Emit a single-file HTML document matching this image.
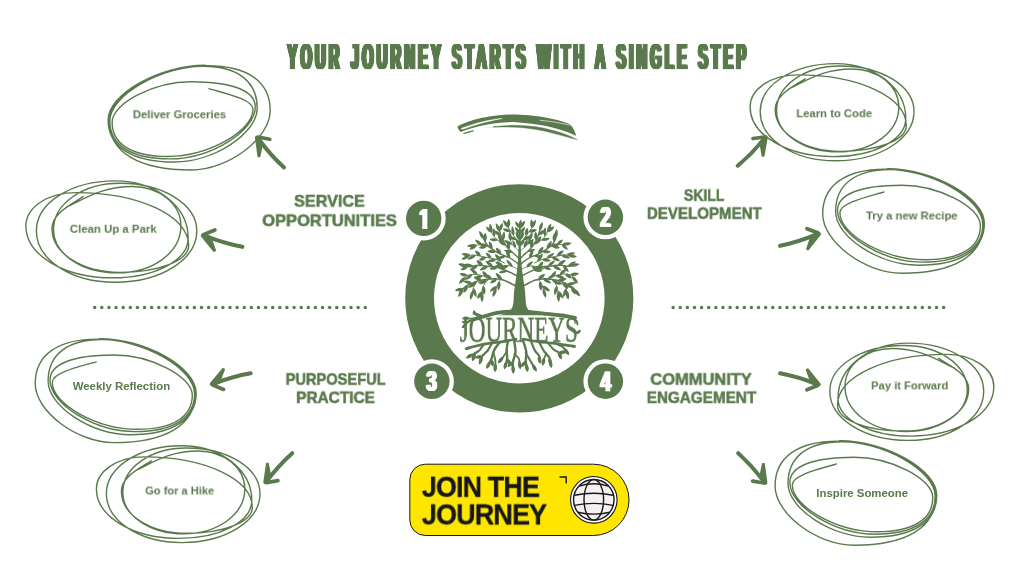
<!DOCTYPE html>
<html lang="en">
<head>
<meta charset="utf-8">
<title>Your Journey Starts With A Single Step</title>
<style>
html,body{margin:0;padding:0;background:#fff}
body{width:1024px;height:575px;overflow:hidden;position:relative;font-family:"Liberation Sans",Arial,sans-serif}
svg.bg{position:absolute;left:0;top:0;width:1024px;height:575px;display:block}
.t{position:absolute;white-space:nowrap;line-height:1;transform-origin:0 0;color:#5a7a4d;font-weight:bold;margin:0;padding:0;will-change:transform}
.title{word-spacing:2px;letter-spacing:8px;text-shadow:3.7px 0 0 #5a7a4d,-3.7px 0 0 #5a7a4d,2.8px 0 0 #5a7a4d,-2.8px 0 0 #5a7a4d,1.9px 0 0 #5a7a4d,-1.9px 0 0 #5a7a4d,0.95px 0 0 #5a7a4d,-0.95px 0 0 #5a7a4d}
.num{color:#fff;text-shadow:2px 0 0 #fff,-2px 0 0 #fff,1px 0 0 #fff,-1px 0 0 #fff}
.h{-webkit-text-stroke:0.55px #5a7a4d}
.l{font-weight:bold}
.btn{color:#17171a;letter-spacing:-0.9px;-webkit-text-stroke:0.35px #17171a}
.logo{font-family:"Liberation Serif","DejaVu Serif",serif;font-weight:normal;-webkit-text-stroke:0.7px #5a7a4d}
</style>
</head>
<body>
<svg class="bg" viewBox="0 0 1024 575" width="1024" height="575">
<circle cx="519.3" cy="298.3" r="99.7" fill="none" stroke="#5a7a4d" stroke-width="28.8"/>
<path d="M94.7 307.5H365.4" stroke="#5a7a4d" stroke-width="3.5" stroke-linecap="round" stroke-dasharray="0 7.12" fill="none"/>
<path d="M673.1 307.5H943.8" stroke="#5a7a4d" stroke-width="3.5" stroke-linecap="round" stroke-dasharray="0 7.12" fill="none"/>
<circle cx="423.7" cy="218.4" r="22" fill="#fff"/><circle cx="423.7" cy="218.4" r="17.7" fill="#5a7a4d"/>
<circle cx="605.4" cy="217.3" r="22" fill="#fff"/><circle cx="605.4" cy="217.3" r="17.7" fill="#5a7a4d"/>
<circle cx="431.9" cy="381.3" r="22" fill="#fff"/><circle cx="431.9" cy="381.3" r="17.7" fill="#5a7a4d"/>
<circle cx="605.4" cy="381.2" r="22" fill="#fff"/><circle cx="605.4" cy="381.2" r="17.7" fill="#5a7a4d"/>
<g transform="matrix(-0.6682 -0.7313 0.7313 -0.6682 256.0 135.9)" fill="#5a7a4d" stroke="#5a7a4d"><path d="M-42.6 -0.6Q-24 -2.2 -5 -0.2" fill="none" stroke-width="4.1" stroke-linecap="round"/><path d="M-2.6 0.9L-11.9 8.0" fill="none" stroke-width="3.8" stroke-linecap="round"/><path d="M-1.2 -1.3L-16.8 -12.2L-17.7 -11.4L-9.8 -0.4L-2.6 1.1Q-0.5 0.6 -0.7 -0.5Q-0.9 -1 -1.2 -1.3Z" stroke-width="1.8" stroke-linejoin="round"/></g>
<g transform="matrix(-0.9720 -0.2734 0.2734 -0.9720 201.1 234.6)" fill="#5a7a4d" stroke="#5a7a4d"><path d="M-42.6 -0.6Q-24 -2.2 -5 -0.2" fill="none" stroke-width="4.1" stroke-linecap="round"/><path d="M-2.6 0.9L-11.9 8.0" fill="none" stroke-width="3.8" stroke-linecap="round"/><path d="M-1.2 -1.3L-16.8 -12.2L-17.7 -11.4L-9.8 -0.4L-2.6 1.1Q-0.5 0.6 -0.7 -0.5Q-0.9 -1 -1.2 -1.3Z" stroke-width="1.8" stroke-linejoin="round"/></g>
<g transform="matrix(0.6916 -0.6939 -0.6939 -0.6916 766.8 135.8)" fill="#5a7a4d" stroke="#5a7a4d"><path d="M-42.6 -0.6Q-24 -2.2 -5 -0.2" fill="none" stroke-width="4.1" stroke-linecap="round"/><path d="M-2.6 0.9L-11.9 8.0" fill="none" stroke-width="3.8" stroke-linecap="round"/><path d="M-1.2 -1.3L-16.8 -12.2L-17.7 -11.4L-9.8 -0.4L-2.6 1.1Q-0.5 0.6 -0.7 -0.5Q-0.9 -1 -1.2 -1.3Z" stroke-width="1.8" stroke-linejoin="round"/></g>
<g transform="matrix(0.9556 -0.2874 -0.2874 -0.9556 820.6 233.0)" fill="#5a7a4d" stroke="#5a7a4d"><path d="M-42.6 -0.6Q-24 -2.2 -5 -0.2" fill="none" stroke-width="4.1" stroke-linecap="round"/><path d="M-2.6 0.9L-11.9 8.0" fill="none" stroke-width="3.8" stroke-linecap="round"/><path d="M-1.2 -1.3L-16.8 -12.2L-17.7 -11.4L-9.8 -0.4L-2.6 1.1Q-0.5 0.6 -0.7 -0.5Q-0.9 -1 -1.2 -1.3Z" stroke-width="1.8" stroke-linejoin="round"/></g>
<g transform="matrix(-0.9556 0.2570 0.2570 0.9556 210.1 384.8)" fill="#5a7a4d" stroke="#5a7a4d"><path d="M-42.6 -0.6Q-24 -2.2 -5 -0.2" fill="none" stroke-width="4.1" stroke-linecap="round"/><path d="M-2.6 0.9L-11.9 8.0" fill="none" stroke-width="3.8" stroke-linecap="round"/><path d="M-1.2 -1.3L-16.8 -12.2L-17.7 -11.4L-9.8 -0.4L-2.6 1.1Q-0.5 0.6 -0.7 -0.5Q-0.9 -1 -1.2 -1.3Z" stroke-width="1.8" stroke-linejoin="round"/></g>
<g transform="matrix(-0.6659 0.7103 0.7103 0.6659 264.3 483.8)" fill="#5a7a4d" stroke="#5a7a4d"><path d="M-42.6 -0.6Q-24 -2.2 -5 -0.2" fill="none" stroke-width="4.1" stroke-linecap="round"/><path d="M-2.6 0.9L-11.9 8.0" fill="none" stroke-width="3.8" stroke-linecap="round"/><path d="M-1.2 -1.3L-16.8 -12.2L-17.7 -11.4L-9.8 -0.4L-2.6 1.1Q-0.5 0.6 -0.7 -0.5Q-0.9 -1 -1.2 -1.3Z" stroke-width="1.8" stroke-linejoin="round"/></g>
<g transform="matrix(0.9509 0.2687 -0.2687 0.9509 820.4 385.3)" fill="#5a7a4d" stroke="#5a7a4d"><path d="M-42.6 -0.6Q-24 -2.2 -5 -0.2" fill="none" stroke-width="4.1" stroke-linecap="round"/><path d="M-2.6 0.9L-11.9 8.0" fill="none" stroke-width="3.8" stroke-linecap="round"/><path d="M-1.2 -1.3L-16.8 -12.2L-17.7 -11.4L-9.8 -0.4L-2.6 1.1Q-0.5 0.6 -0.7 -0.5Q-0.9 -1 -1.2 -1.3Z" stroke-width="1.8" stroke-linejoin="round"/></g>
<g transform="matrix(0.6706 0.7220 -0.7220 0.6706 766.4 484.3)" fill="#5a7a4d" stroke="#5a7a4d"><path d="M-42.6 -0.6Q-24 -2.2 -5 -0.2" fill="none" stroke-width="4.1" stroke-linecap="round"/><path d="M-2.6 0.9L-11.9 8.0" fill="none" stroke-width="3.8" stroke-linecap="round"/><path d="M-1.2 -1.3L-16.8 -12.2L-17.7 -11.4L-9.8 -0.4L-2.6 1.1Q-0.5 0.6 -0.7 -0.5Q-0.9 -1 -1.2 -1.3Z" stroke-width="1.8" stroke-linejoin="round"/></g>
<path d="M425.3 464.2H593.4A35.65 35.65 0 0 1 593.4 535.5H425.3A15.5 15.5 0 0 1 409.8 520V479.7A15.5 15.5 0 0 1 425.3 464.2Z" fill="#ffe600" stroke="#17171a" stroke-width="1"/>
<path d="M559.5 477H566.2V483.6" fill="none" stroke="#17171a" stroke-width="1.4"/>
<circle cx="593.8" cy="499.8" r="23.3" fill="#fff" stroke="#17171a" stroke-width="1.1"/>
<circle cx="593.8" cy="499.8" r="20.3" fill="#f6f0f0" stroke="#17171a" stroke-width="1.4"/>
<g fill="none" stroke="#17171a" stroke-width="1.4"><ellipse cx="593.8" cy="499.8" rx="9.8" ry="20.3"/><path d="M579.3 486.2Q593.8 481.3 608.3 486.2"/><path d="M574.5 495.2Q593.8 491.2 613.0999999999999 495.2"/><path d="M574.5 505.40000000000003Q593.8 501.40000000000003 613.0999999999999 505.40000000000003"/><path d="M577.8 512.2Q593.8 516.0 609.8 512.2"/></g>
<g transform="translate(445 105) scale(0.1416)" fill="#5a7a4d" stroke="none"><path d="M88 153C150 112 300 72 450 67C620 64 800 98 882 136C905 158 920 188 926 218C860 182 720 134 500 121C350 119 200 152 112 190C98 178 90 166 88 153Z"/><path d="M340 154C450 138 570 140 700 164C800 186 880 214 934 246C870 228 790 206 700 184C570 156 450 152 340 158Z" stroke="#5a7a4d" stroke-width="3"/><path d="M130 202Q160 188 202 182Q170 196 130 202Z" stroke="#5a7a4d" stroke-width="6" stroke-linejoin="round"/><path d="M112 166C220 124 320 103 404 95C320 110 220 136 126 172Z" fill="#fff" stroke="#fff" stroke-width="3" stroke-linejoin="round"/><path d="M672 108C750 116 830 128 882 143" fill="none" stroke="#fff" stroke-width="4.5" stroke-linecap="round"/><path d="M282 162L330 156" fill="none" stroke="#5a7a4d" stroke-opacity="0.35" stroke-width="3" stroke-linecap="round"/></g>
<path d="M99.7 338.6C145.1 338.6 196.2 367.4 196.2 393C196.2 419.7 172.4 434.7 130.1 434.7C91.6 434.7 48.1 406.4 48.1 381.2C48.1 354.5 67.5 339.5 102 339.5C145.9 339.5 195.3 368.1 195.3 393.4C195.3 424.9 165.9 442.6 113.7 442.6C76.8 442.6 35.2 411.3 35.2 383.6C35.2 355.1 57.6 339.1 97.3 339.1C143 339.1 194.6 368.3 194.6 394.1C194.6 418.1 173.1 431.6 134.8 431.6C95 431.6 50 404.3 50 380.1C50 364 72.9 355 113.7 355C150.6 355 192.3 376.4 192.3 395.3C192.3 417.1 172.4 429.3 137.2 429.3C97.3 429.3 52.3 404.4 52.3 382.4C52.3 372.1 83 365.9 96.2 361.8" fill="none" stroke="#5a7a4d" stroke-width="1.4" stroke-linecap="round" stroke-linejoin="round"/>
<path d="M66.6 207C86.3 197.8 102.6 186.5 132.1 186.5C159.4 186.5 180.9 203.9 180.9 226C180.9 252.3 153 272.9 117.4 272.9C81.6 272.9 53.5 253.9 53.5 229.7C53.5 203.7 82.7 183.3 119.9 183.3C162.9 183.3 196.8 204.3 196.8 230.9C196.8 259.6 160.8 282.2 115 282.2C71 282.2 36.4 259.6 36.4 230.9C36.4 202.9 71 180.9 115 180.9C156 180.9 188.2 206.1 188.2 238.2C188.2 260.4 154.9 277.8 112.5 277.8C64 277.8 25.9 255 25.9 226C25.9 207.3 47.9 192.6 75.9 192.6C139.1 192.6 188.7 215.9 188.7 245.6C188.7 260.6 158.4 272.4 119.9 272.4C81.9 272.4 52 253.1 52 228.5C52 212.6 73.9 203.1 83.2 196.7" fill="none" stroke="#5a7a4d" stroke-width="1.4" stroke-linecap="round" stroke-linejoin="round"/>
<path d="M205.3 65.2C159.6 65.2 108.1 94.2 108.1 120C108.1 146.8 132.1 162 174.6 162C213.5 162 257.2 133.4 257.2 108.2C257.2 81.3 237.7 66.2 203 66.2C158.8 66.2 109 94.9 109 120.4C109 152.1 138.6 170 191.2 170C228.3 170 270.2 138.5 270.2 110.5C270.2 81.8 247.7 65.7 207.7 65.7C161.6 65.7 109.8 95.1 109.8 121.1C109.8 145.3 131.4 158.9 169.9 158.9C210.1 158.9 255.3 131.4 255.3 107C255.3 90.8 232.2 81.7 191.2 81.7C154 81.7 112.1 103.2 112.1 122.3C112.1 144.2 132.1 156.5 167.6 156.5C207.7 156.5 253 131.5 253 109.3C253 99 222.1 92.7 208.9 88.6" fill="none" stroke="#5a7a4d" stroke-width="1.4" stroke-linecap="round" stroke-linejoin="round"/>
<path d="M887.4 168.7C933 168.7 984.4 197.6 984.4 223.3C984.4 250.1 960.5 265.2 918 265.2C879.3 265.2 835.6 236.8 835.6 211.5C835.6 184.7 855.1 169.6 889.8 169.6C933.8 169.6 983.5 198.3 983.5 223.8C983.5 255.4 954 273.2 901.5 273.2C864.5 273.2 822.7 241.8 822.7 213.9C822.7 185.3 845.2 169.2 885.1 169.2C931 169.2 982.8 198.5 982.8 224.5C982.8 248.6 961.1 262.1 922.7 262.1C882.7 262.1 837.5 234.7 837.5 210.4C837.5 194.2 860.6 185.2 901.5 185.2C938.6 185.2 980.4 206.6 980.4 225.7C980.4 247.5 960.5 259.8 925.1 259.8C885 259.8 839.9 234.8 839.9 212.7C839.9 202.4 870.7 196.1 883.9 192" fill="none" stroke="#5a7a4d" stroke-width="1.4" stroke-linecap="round" stroke-linejoin="round"/>
<path d="M839.8 440.7C885.4 440.7 936.8 469.7 936.8 495.4C936.8 522.2 912.9 537.2 870.4 537.2C831.7 537.2 788 508.8 788 483.6C788 456.8 807.5 441.7 842.2 441.7C886.2 441.7 935.9 470.4 935.9 495.8C935.9 527.5 906.4 545.3 853.9 545.3C816.9 545.3 775.1 513.8 775.1 485.9C775.1 457.3 797.6 441.2 837.5 441.2C883.4 441.2 935.2 470.5 935.2 496.5C935.2 520.6 913.5 534.2 875.1 534.2C835.1 534.2 789.9 506.7 789.9 482.4C789.9 466.3 813 457.2 853.9 457.2C891 457.2 932.8 478.7 932.8 497.7C932.8 519.5 912.9 531.8 877.5 531.8C837.4 531.8 792.3 506.9 792.3 484.8C792.3 474.4 823.1 468.2 836.3 464" fill="none" stroke="#5a7a4d" stroke-width="1.4" stroke-linecap="round" stroke-linejoin="round"/>
<path d="M789.2 88.7C808 79.8 823.7 69 852 69C878.2 69 898.8 85.7 898.8 106.9C898.8 132.1 872 151.9 837.9 151.9C803.6 151.9 776.6 133.7 776.6 110.4C776.6 85.5 804.6 66 840.2 66C881.5 66 914 86 914 111.6C914 139.1 879.5 160.8 835.6 160.8C793.3 160.8 760.2 139.1 760.2 111.6C760.2 84.7 793.3 63.6 835.6 63.6C874.9 63.6 905.8 87.8 905.8 118.6C905.8 139.9 873.9 156.6 833.2 156.6C786.7 156.6 750.1 134.7 750.1 106.9C750.1 89 771.2 74.9 798.1 74.9C858.7 74.9 906.3 97.2 906.3 125.7C906.3 140.1 877.2 151.4 840.2 151.4C803.8 151.4 775.2 132.9 775.2 109.3C775.2 94.1 796.1 84.9 805.1 78.8" fill="none" stroke="#5a7a4d" stroke-width="1.4" stroke-linecap="round" stroke-linejoin="round"/>
<path d="M135.4 470.7C154.2 461.8 169.9 451 198.1 451C224.2 451 244.8 467.7 244.8 488.9C244.8 514 218.1 533.8 184 533.8C149.8 533.8 122.8 515.6 122.8 492.4C122.8 467.5 150.8 448 186.4 448C227.6 448 260 468 260 493.6C260 521.1 225.6 542.6 181.7 542.6C139.6 542.6 106.4 521.1 106.4 493.6C106.4 466.7 139.6 445.7 181.7 445.7C221 445.7 251.8 469.8 251.8 500.6C251.8 521.8 219.9 538.4 179.4 538.4C132.9 538.4 96.4 516.6 96.4 488.9C96.4 471 117.5 456.9 144.3 456.9C204.8 456.9 252.3 479.2 252.3 507.6C252.3 522 223.3 533.3 186.4 533.3C150 533.3 121.4 514.8 121.4 491.2C121.4 476 142.3 466.9 151.3 460.8" fill="none" stroke="#5a7a4d" stroke-width="1.4" stroke-linecap="round" stroke-linejoin="round"/>
<path d="M954.7 368.2C935.8 359.3 920.1 348.5 891.9 348.5C865.6 348.5 845 365.2 845 386.5C845 411.7 871.8 431.5 905.9 431.5C940.3 431.5 967.3 413.2 967.3 390C967.3 365.1 939.3 345.5 903.6 345.5C862.3 345.5 829.8 365.6 829.8 391.2C829.8 418.7 864.3 440.4 908.3 440.4C950.5 440.4 983.7 418.7 983.7 391.2C983.7 364.3 950.5 343.1 908.3 343.1C868.9 343.1 838 367.4 838 398.2C838 419.4 870 436.1 910.6 436.1C957.2 436.1 993.8 414.3 993.8 386.5C993.8 368.5 972.7 354.4 945.8 354.4C885.2 354.4 837.5 376.8 837.5 405.2C837.5 419.7 866.6 431 903.6 431C940.1 431 968.7 412.4 968.7 388.8C968.7 373.6 947.7 364.5 938.7 358.4" fill="none" stroke="#5a7a4d" stroke-width="1.4" stroke-linecap="round" stroke-linejoin="round"/>
<path d="M513.6 300C513.7 294 514.4 288 515.6 281C516.6 275 517.4 268 518.0 260C518.4 252 518.7 240 519.0 228L520.2 228C520.5 240 520.8 252 521.2 260C521.8 268 522.6 275 523.6 281C524.8 288 525.5 294 525.6 300C525.8 305 526.8 309 529.8 311.5C532.8 313.6 537 314.6 541 315.2L498 315.2C502 314.6 506.2 313.6 509.2 311.5C512.4 309 513.4 305 513.6 300Z" fill="#5a7a4d"/>
<path d="M519.4 253C519.1 252.5 518.9 251.3 517.8 250C516.6 248.7 513.7 246.7 512.5 245C511.3 243.3 510.8 240.8 510.5 240M519.8 253C520.1 252.5 520.3 251.4 521.5 250.1C522.7 248.8 525.6 246.8 526.9 245.2C528.1 243.5 528.6 241.1 529 240.3M519.4 271C518.8 270.5 517.4 268.9 515.5 268C513.6 267.1 510.1 265.8 508 265.5C505.9 265.2 503.8 265.9 503 266M519.8 271C520.4 270.5 521.7 269.1 523.6 268.2C525.5 267.4 529 266.2 531 266C533.1 265.7 535.1 266.6 535.9 266.7" fill="none" stroke="#5a7a4d" stroke-width="0.8" stroke-linecap="round" stroke-linejoin="round"/>
<path d="M477 281.4C476.5 282.2 474.8 284.3 474 286C473.2 287.7 472.8 290.6 472.5 291.5M562.4 281.4C562.9 282.1 564.7 284.2 565.4 285.8C566.1 287.4 566.6 290.3 566.9 291.1M501 279.4C500.5 280.1 498.8 281.9 498 283.5C497.2 285.1 496.3 288.1 496 289M538.4 279.4C538.9 280.1 540.5 282 541.4 283.7C542.2 285.4 543 288.5 543.4 289.4M489.5 247.2C488.1 246.8 483.3 245.3 481 245C478.7 244.7 476.4 245.2 475.5 245.2M548.9 247.2C550.3 246.8 555.1 245.1 557.4 244.7C559.8 244.2 562.1 244.6 563 244.5M505 244C503.8 243.3 499.5 241.5 497.5 240C495.5 238.5 494 236.3 493 235C492 233.7 491.8 232.5 491.5 232M534.1 244C535.4 243.3 539.6 241.4 541.7 239.9C543.7 238.3 545.2 236.1 546.2 234.7C547.2 233.4 547.5 232.1 547.7 231.6" fill="none" stroke="#5a7a4d" stroke-width="0.9" stroke-linecap="round" stroke-linejoin="round"/>
<path d="M488.5 279.7C487.9 280.2 486 281.5 485 283C484 284.5 483 286.8 482.5 288.5C482 290.2 482.1 292.7 482 293.5M551.6 279.7C552.2 280.2 554.1 281.5 555.1 282.9C556.1 284.4 557 286.6 557.5 288.4C558 290.1 557.8 292.5 557.9 293.3M491 279.2C489.6 278.6 485.1 276.5 482.4 275.7C479.7 274.9 477.1 274.5 474.7 274.4C472.3 274.3 469.6 274.7 468 275.2C466.4 275.7 465.5 277.1 465 277.5M547.6 279.2C549 278.6 553.3 276.4 555.9 275.5C558.5 274.7 561 274.2 563.3 274C565.7 273.9 568.3 274.2 569.8 274.7C571.4 275.1 572.2 276.4 572.6 276.8M504.5 263C503 262.4 498.4 260.1 495.5 259.2C492.6 258.3 489.9 258.1 487 257.5C484.1 256.9 480.4 256.1 478 255.7C475.6 255.3 474 255 472.5 255C471 255 469.6 255.6 469 255.7M534.3 263C535.8 262.4 540.2 260.1 543 259.2C545.8 258.2 548.3 258 551.2 257.4C554 256.8 557.5 256 559.8 255.6C562.1 255.1 563.6 254.9 565.1 254.8C566.5 254.8 567.8 255.4 568.4 255.5M519.4 246C519.2 245.5 519.5 244.8 518.5 243C517.5 241.2 514.8 237.2 513.3 235C511.8 232.8 510.5 231.1 509.6 229.8C508.7 228.5 508.3 227.5 508 227M519.8 246C520 245.5 519.8 244.9 520.9 243.1C522 241.3 524.8 237.4 526.3 235.3C527.9 233.1 529.3 231.5 530.3 230.2C531.2 228.9 531.8 228 532.1 227.5" fill="none" stroke="#5a7a4d" stroke-width="1" stroke-linecap="round" stroke-linejoin="round"/>
<path d="M519.6 290C519.6 286.7 519.6 276.7 519.6 270C519.6 263.3 519.7 255.7 519.7 250C519.8 244.3 519.8 239.7 519.9 236C520 232.3 520.1 229.3 520.1 228" fill="none" stroke="#5a7a4d" stroke-width="1.3" stroke-linecap="round" stroke-linejoin="round"/>
<path d="M519.4 265.5C518.9 265 518.1 263.8 516.5 262.5C514.9 261.2 512 259.1 510 258C507.9 256.9 506.6 256.8 504.2 255.7C501.8 254.6 498.1 253 495.5 251.4C492.9 249.8 490.2 247.8 488.5 246.2C486.8 244.6 485.8 242.9 485 241.6C484.2 240.3 483.9 239 483.7 238.5M519.8 265.5C520.3 265 521.1 263.7 522.7 262.4C524.3 261.1 527.2 258.9 529.3 257.8C531.4 256.6 532.7 256.5 535.2 255.4C537.6 254.2 541.4 252.6 544 250.9C546.7 249.3 549.4 247.3 551.1 245.6C552.9 244 553.9 242.2 554.7 240.9C555.4 239.6 555.7 238.2 555.9 237.7M519.4 260C519.1 259.5 519.3 258.9 517.5 257C515.7 255.1 510.7 251.2 508.5 248.8C506.3 246.4 505.4 244.8 504.2 242.7C503 240.6 502 238.1 501.2 236.2C500.4 234.2 499.9 231.9 499.6 231M519.8 260C520.1 259.5 519.9 258.8 521.7 256.9C523.5 255 528.5 251 530.8 248.5C533 246.1 533.9 244.4 535.1 242.3C536.3 240.1 537.3 237.6 538.1 235.7C538.9 233.7 539.4 231.2 539.7 230.3" fill="none" stroke="#5a7a4d" stroke-width="1.4" stroke-linecap="round" stroke-linejoin="round"/>
<path d="M519.4 277.5C518.6 277 517.1 275.8 514.5 274.5C511.9 273.2 507.2 270.9 504 269.7C500.8 268.4 498.3 267.6 495.5 267C492.7 266.4 489.9 266.5 487 266.2C484.1 265.9 480.7 265.2 478 265.3C475.3 265.4 472.9 266.5 471 266.6C469.1 266.8 467.2 266.3 466.5 266.2M519.8 277.5C520.6 277 522 275.8 524.5 274.4C527 273.1 531.7 270.9 534.8 269.6C537.9 268.3 540.3 267.4 543 266.8C545.8 266.2 548.5 266.3 551.3 266C554.2 265.7 557.5 265 560.1 265C562.7 265.1 565 266.1 566.9 266.3C568.7 266.4 570.5 265.9 571.2 265.8" fill="none" stroke="#5a7a4d" stroke-width="1.5" stroke-linecap="round" stroke-linejoin="round"/>
<path d="M519.4 287.5C518.3 287 515.6 285.7 513 284.5C510.4 283.3 506.9 281.1 504 280.2C501.1 279.2 498.3 279 495.5 278.8C492.7 278.6 489.9 278.8 487 279.2C484.1 279.6 480.8 280.2 478 281C475.2 281.8 472.7 283 470.5 284C468.3 285 466.3 286.1 465 287C463.7 287.9 462.9 289.1 462.5 289.5M519.8 287.5C520.8 287 523.5 285.7 526 284.5C528.4 283.3 531.8 281.2 534.7 280.2C537.5 279.3 540.1 279 542.9 278.9C545.6 278.7 548.3 278.9 551.1 279.3C553.9 279.7 557.1 280.3 559.8 281.1C562.4 281.9 564.9 283.1 567 284.1C569.1 285.1 571 286.2 572.3 287.2C573.6 288.1 574.3 289.3 574.7 289.7" fill="none" stroke="#5a7a4d" stroke-width="1.6" stroke-linecap="round" stroke-linejoin="round"/>
<path d="M502.1 279.7C502.5 276.7 499.1 273.3 495.7 272.9C495.9 276.3 499.1 279.9 502.1 279.7ZM496.9 278.9C494.3 277.9 491 280.3 490.1 283.1C493.1 283.7 496.7 281.6 496.9 278.9ZM491.7 278.8C491.6 276 488 273.8 485 274.2C485.8 277.1 489.1 279.7 491.7 278.8ZM486.7 279.2C484.1 278.6 481.1 281.4 480.6 284.3C483.5 284.4 486.8 281.9 486.7 279.2ZM481.4 280.2C480.8 277.3 476.8 275.9 473.8 276.9C475.1 279.8 478.9 281.7 481.4 280.2ZM476.4 281.5C473.6 280.9 470.9 284 470.8 287.1C473.9 287.1 477 284.3 476.4 281.5ZM472.1 283.3C470.7 280.7 465.9 279.8 462.8 281.1C465 283.6 469.7 284.9 472.1 283.3ZM467.5 285.5C464.6 285.8 462.8 289.7 463.6 292.8C466.6 291.8 468.9 288.1 467.5 285.5ZM463.2 288.7C461 286.9 456.8 288.1 454.9 290.6C457.7 292 462 291.2 463.2 288.7ZM463 288.9C460.1 289.4 457.8 293.7 458.2 297C461.3 295.8 464 291.7 463 288.9ZM538.4 279.3C541.2 280.2 544.5 277.2 545 274.1C541.8 273.9 538.2 276.4 538.4 279.3ZM543.2 278.9C543.8 281.5 548.1 283.6 551.3 283.2C549.9 280.4 545.8 277.9 543.2 278.9ZM547.7 278.9C550.4 279.7 554.5 277.1 555.8 274.1C552.6 273.9 548.3 276.2 547.7 278.9ZM552.5 279.5C552.4 282.1 555.6 284.6 558.5 284.7C558 281.9 555.1 279 552.5 279.5ZM557.9 280.6C560.2 282.6 564.9 281.3 566.9 278.6C563.9 277 559.2 277.8 557.9 280.6ZM562.5 282.1C561.8 285 564.9 288.4 568.1 288.9C568.2 285.6 565.4 281.9 562.5 282.1ZM567.3 284.2C569.4 286 574.3 285 576.6 282.8C573.7 281.4 568.8 281.9 567.3 284.2ZM571.3 286.5C570 289.2 572.4 293.2 575.5 294.4C576.3 291.1 574.3 286.9 571.3 286.5ZM574.2 289.1C573.6 291.9 576.8 295.7 580.1 296.5C580 293.2 577.1 289.2 574.2 289.1ZM475.3 283.8C472.8 282.8 469 285 467.7 287.7C470.7 288.3 474.7 286.5 475.3 283.8ZM473.3 288C471.9 290.5 473.7 295.3 476.3 297.3C477.3 294.1 475.9 289.2 473.3 288ZM472.7 290.7C470 292 469.1 296.8 470.4 299.9C473 297.8 474.4 293.1 472.7 290.7ZM564.4 284.1C565 286.7 569.2 288.5 572.2 287.9C570.8 285.2 566.9 283 564.4 284.1ZM566.2 288.2C563.6 289.4 562.4 294.2 563.4 297.2C566 295.3 567.6 290.6 566.2 288.2ZM566.7 290.4C564.8 292.6 565.9 297.4 568.3 299.7C569.9 296.7 569.2 291.8 566.7 290.4ZM486.2 281.6C484.3 279.7 480.1 280.6 478.2 282.9C480.7 284.5 484.9 284.1 486.2 281.6ZM483.4 286.1C481.1 288.1 481.7 292.6 484.1 294.8C486.1 292.2 486 287.6 483.4 286.1ZM482.1 291.4C479.2 291.6 476.9 295.6 477.3 298.8C480.4 297.9 483.1 294.2 482.1 291.4ZM482 292.7C479.8 294.6 480 299.5 481.9 302.2C484 299.5 484.3 294.6 482 292.7ZM554.2 281.9C555.4 284.5 559.9 285.4 562.7 284.1C560.9 281.6 556.5 280.3 554.2 281.9ZM556.7 286C554.1 287.4 553.3 292.2 554.7 295.3C557.2 293.1 558.4 288.3 556.7 286ZM557.8 291.1C557 293.9 560 297.6 563.2 298.4C563.4 295.1 560.8 291.2 557.8 291.1ZM557.9 292.5C555.8 294.6 556.6 299.5 558.9 301.9C560.6 299.1 560.3 294.1 557.9 292.5ZM499.4 281.4C496.9 282.9 496.6 287.8 498.3 290.6C500.7 288.3 501.5 283.5 499.4 281.4ZM496.9 286.1C494.3 285.7 490.7 288.7 489.9 291.7C493 291.6 496.8 288.8 496.9 286.1ZM496.3 288.2C493.5 289.1 491.8 293.8 492.7 297C495.6 295.3 497.6 290.8 496.3 288.2ZM540 281.6C537.9 283.7 538.8 288.3 541.2 290.6C543 287.8 542.6 283.1 540 281.6ZM542.2 285.9C542.5 288.9 546.7 291.5 550 291.3C549 288 545.1 285 542.2 285.9ZM543.1 288.7C541.5 291.1 543.2 295.8 545.9 297.7C547.1 294.6 545.8 289.8 543.1 288.7ZM487.3 277.6C488.4 274.9 485.7 271.5 482.6 270.9C482.2 274 484.4 277.6 487.3 277.6ZM482.7 275.8C480.3 274 475.7 275.5 473.8 278.3C476.9 279.6 481.6 278.6 482.7 275.8ZM477.5 274.6C477.6 271.8 473.9 268.9 470.6 268.7C471.3 271.9 474.7 275.1 477.5 274.6ZM472.3 274.5C469.6 273.9 465.9 277 464.9 280C468.1 279.9 472 277.2 472.3 274.5ZM467.5 275.4C466.3 272.8 462 272.2 459.3 273.8C461.2 276.3 465.4 277.4 467.5 275.4ZM465.6 276.9C462.6 276.7 459.4 280.4 458.9 283.7C462.2 283.2 465.8 279.9 465.6 276.9ZM551.1 277.5C553.7 277.5 556.2 274 556.2 271C553.4 271.7 550.5 275 551.1 277.5ZM555.6 275.6C556.9 278.1 561.5 278.9 564.4 277.6C562.3 275.2 557.8 273.9 555.6 275.6ZM560 274.5C562.7 275.1 565.9 272.1 566.4 269.1C563.3 269.1 559.8 271.7 560 274.5ZM565.3 274C565.4 276.8 569 278.8 572 278.2C571.2 275.3 567.8 272.9 565.3 274ZM570.2 274.8C572.3 277 576.9 276.1 579.1 273.6C576.3 271.7 571.6 272.1 570.2 274.8ZM572.1 276.2C571.5 279.1 574.7 282.8 578 283.6C577.9 280.3 575 276.3 572.1 276.2ZM507.3 271.1C505.2 269.3 500.9 270.2 498.8 272.4C501.5 273.9 505.9 273.4 507.3 271.1ZM502.6 269.2C503.5 266.3 500.7 262.2 497.5 261C497.2 264.3 499.6 268.7 502.6 269.2ZM497.5 267.5C495.5 265.5 491.4 266.4 489.5 268.9C492.1 270.5 496.3 270 497.5 267.5ZM492.9 266.6C492.8 263.7 488.8 260.8 485.5 260.7C486.3 263.9 490.1 267.2 492.9 266.6ZM488.2 266.3C485.5 265.1 481 267.4 479.4 270.3C482.7 271 487.3 269.1 488.2 266.3ZM482.8 265.7C483.1 262.7 479.6 260.1 476.4 260.3C476.8 263.5 480 266.5 482.8 265.7ZM477.9 265.3C475.1 264.5 471 267.3 469.7 270.5C473.1 270.8 477.5 268.2 477.9 265.3ZM473 266.2C471.7 263.7 467.1 262.9 464.2 264.3C466.3 266.8 470.8 268 473 266.2ZM467.8 266.4C465.4 265.1 461.8 267.2 460.7 270C463.6 270.8 467.4 269.1 467.8 266.4ZM467.3 266.3C466 263.7 461.2 262.6 458.2 263.9C460.2 266.5 464.9 268 467.3 266.3ZM533.7 270.1C535.3 272.4 539.9 272.6 542.6 270.9C540.3 268.6 535.7 268 533.7 270.1ZM538.4 268.2C541.3 268.3 543.6 264.7 543.2 261.6C540.1 262.2 537.5 265.5 538.4 268.2ZM543.2 266.8C544.2 269.5 548.4 270.6 551.3 269.4C549.7 266.7 545.5 265.2 543.2 266.8ZM548.1 266.2C550.7 266.7 554.3 263.6 555.1 260.6C552 260.8 548.2 263.5 548.1 266.2ZM553 265.8C553.6 268.7 558 270.9 561.3 270.4C560 267.3 555.8 264.7 553 265.8ZM558.2 265.1C561 266 564.8 263.2 565.7 260.1C562.4 259.7 558.4 262.1 558.2 265.1ZM563.2 265.5C562.6 268.2 565.6 271.5 568.7 272.1C568.7 269 566 265.4 563.2 265.5ZM567.8 266.3C570.4 267.1 574.6 264.4 575.9 261.5C572.7 261.2 568.4 263.5 567.8 266.3ZM570.5 265.9C572.7 267.8 577.5 266.6 579.7 264.1C576.7 262.6 571.9 263.4 570.5 265.9ZM500.9 261.4C501.6 258.4 498.5 254.7 495.1 254C495 257.4 497.8 261.4 500.9 261.4ZM496.3 259.5C494.1 257.7 489.6 258.9 487.7 261.4C490.5 262.8 495 262 496.3 259.5ZM491.3 258.2C491.7 255.6 488.6 252.8 485.7 252.5C485.9 255.4 488.7 258.6 491.3 258.2ZM486.1 257.3C483.8 255.7 480 257.5 478.7 260.3C481.6 261.4 485.5 260.1 486.1 257.3ZM480.7 256.2C481.3 253.4 478.2 250.6 475.1 250.5C475.1 253.7 477.9 256.8 480.7 256.2ZM475.7 255.3C473.1 254.3 468.9 256.8 467.5 259.6C470.7 260.1 475 258 475.7 255.3ZM470.3 255.3C468.9 252.8 464.3 252.2 461.4 253.7C463.5 256.1 468.1 257.2 470.3 255.3ZM469.8 255.5C467.1 254.3 462.8 256.6 461.3 259.6C464.5 260.3 469 258.3 469.8 255.5ZM537.6 261.4C540.6 261.2 543 257 542.6 253.6C539.4 254.6 536.6 258.6 537.6 261.4ZM542.1 259.5C543.6 261.9 548.2 262.4 551 260.8C548.8 258.4 544.2 257.5 542.1 259.5ZM546.8 258.2C549.5 258.8 553.3 255.9 554.3 252.9C551.1 252.8 547.1 255.4 546.8 258.2ZM551.8 257.3C552.4 260.1 556.7 261.8 559.9 261C558.5 258.1 554.3 255.9 551.8 257.3ZM556.7 256.2C559.6 256.8 563.1 253.5 563.8 250.3C560.5 250.4 556.7 253.3 556.7 256.2ZM561.3 255.3C562.4 257.9 567 259.2 570.1 258.3C568.3 255.7 563.8 253.9 561.3 255.3ZM566.5 255C568.7 256.5 573.3 255.1 575.3 252.7C572.3 251.5 567.7 252.5 566.5 255ZM567.6 255.3C569.1 257.8 574 258.4 576.9 256.8C574.7 254.4 569.8 253.4 567.6 255.3ZM509.9 258C511.1 255.4 508.8 251.4 506 250.1C505.4 253.2 507.2 257.4 509.9 258ZM505.7 256.3C503.7 254.7 499.7 255.8 497.9 258.2C500.5 259.5 504.6 258.7 505.7 256.3ZM501 254.2C501.9 251.4 499.2 248.2 496 247.8C495.7 250.9 498 254.4 501 254.2ZM496.2 251.8C494.6 249.5 489.9 249.4 487.2 251.2C489.6 253.3 494.3 253.9 496.2 251.8ZM492.2 249.2C493.6 246.8 491.8 242.7 489.1 241.2C488.1 244.2 489.5 248.4 492.2 249.2ZM488.1 245.8C486.7 243.2 481.9 242.5 478.9 243.9C481.1 246.4 485.8 247.6 488.1 245.8ZM485.1 241.8C487.5 240 487.3 235.3 485.2 232.8C483.1 235.3 482.8 240 485.1 241.8ZM484 239.3C485 236.5 482.3 232.4 479.2 231.1C478.8 234.4 481.1 238.7 484 239.3ZM529.4 257.7C532.1 257.4 533.8 253.6 533.1 250.7C530.3 251.7 528.1 255.3 529.4 257.7ZM534.1 255.8C535.6 258.1 540.1 258.6 542.8 257.1C540.6 254.9 536.2 254 534.1 255.8ZM538.4 253.9C541.3 253.9 543.7 250.1 543.3 246.8C540.2 247.6 537.4 251.1 538.4 253.9ZM542.6 251.7C544.3 253.9 548.5 253.6 550.8 251.7C548.5 249.8 544.2 249.6 542.6 251.7ZM546.8 249.1C549.7 248.6 552 244.2 551.7 240.8C548.7 242.1 545.9 246.3 546.8 249.1ZM550.9 245.9C553 248 557.5 247.1 559.5 244.5C556.8 242.7 552.2 243.2 550.9 245.9ZM554.1 241.8C556.5 240.1 556.6 235.4 554.6 232.7C552.3 235.2 551.8 239.9 554.1 241.8ZM555.7 238.5C558.1 236.9 558.5 232 556.8 229.1C554.5 231.5 553.7 236.3 555.7 238.5ZM486.6 246.4C484.6 244.5 480.5 245.6 478.7 248C481.3 249.5 485.5 248.9 486.6 246.4ZM481.9 245.2C481.9 242.4 478.2 239.7 475.1 239.7C475.8 242.7 479.2 245.8 481.9 245.2ZM476.7 245.1C474 244 470.5 246.6 469.7 249.6C472.8 250.1 476.6 247.9 476.7 245.1ZM476.3 245.1C474.1 243.1 469.3 244 466.9 246.3C469.8 248 474.7 247.6 476.3 245.1ZM552 246.2C553.1 248.7 557.2 249.4 559.9 247.9C558.1 245.4 554.1 244.3 552 246.2ZM556.9 244.8C559.4 245.3 562.4 242.3 562.9 239.4C560 239.6 556.7 242.2 556.9 244.8ZM561.8 244.5C561.7 247.2 565 249.7 567.9 249.7C567.5 246.8 564.4 243.9 561.8 244.5ZM562.2 244.5C564.4 246.5 569.3 245.6 571.6 243.2C568.7 241.6 563.8 242 562.2 244.5ZM512.3 252.4C511.1 249.9 506.7 249 503.9 250.3C505.8 252.8 510.1 254 512.3 252.4ZM509 249.3C511 247.4 510.3 243.1 508 241.1C506.2 243.6 506.5 247.9 509 249.3ZM505.8 245.4C505.5 242.7 501.6 240.6 498.6 240.9C499.6 243.7 503.3 246.2 505.8 245.4ZM503.1 240.7C505.4 239 505.8 234.1 504.2 231.3C502 233.7 501.2 238.6 503.1 240.7ZM501.1 236C501.1 233.2 497.4 230.5 494.2 230.4C494.9 233.5 498.4 236.6 501.1 236ZM499.6 231.1C502.3 230.2 503.6 226 502.6 223.1C499.9 224.6 498.1 228.7 499.6 231.1ZM499.8 231.8C501.1 229.1 498.8 224.7 495.9 223.2C495.2 226.4 497 231 499.8 231.8ZM527.6 251.5C529.7 253.2 533.7 252 535.5 249.6C532.9 248.4 528.7 249.2 527.6 251.5ZM530.9 248.4C533.4 247.1 534.1 242.4 532.7 239.6C530.3 241.7 529.2 246.2 530.9 248.4ZM534 244.2C536.6 245 540 242.4 540.8 239.5C537.8 239.2 534.1 241.5 534 244.2ZM536.2 240.2C538.4 238.3 537.8 233.9 535.5 231.7C533.6 234.2 533.7 238.7 536.2 240.2ZM538.3 235.2C541.1 235.9 544.8 232.8 545.7 229.6C542.4 229.5 538.4 232.3 538.3 235.2ZM539.5 231.1C542.2 230 543.6 225.3 542.5 222.1C539.7 224 537.9 228.6 539.5 231.1ZM502.3 242.7C503.6 240 501.2 235.8 498.2 234.4C497.4 237.7 499.4 242.1 502.3 242.7ZM497.7 240.1C496.2 237.9 492 237.8 489.5 239.4C491.7 241.4 495.9 242 497.7 240.1ZM494.3 236.7C496.2 234.9 495.7 230.6 493.7 228.3C492 230.8 492.2 235.2 494.3 236.7ZM491.7 232.5C492 229.9 488.9 227.1 486 226.8C486.3 229.7 489.1 232.8 491.7 232.5ZM491.8 232.7C493.6 230.4 492.4 225.7 489.9 223.5C488.4 226.5 489.2 231.3 491.8 232.7ZM536.8 242.7C539.6 242.7 541.7 239.1 541.3 236.1C538.3 236.8 535.8 240.1 536.8 242.7ZM541.3 240.1C543.4 241.9 547.9 240.9 550.1 238.6C547.3 237.2 542.7 237.7 541.3 240.1ZM544.8 236.6C546.9 234.8 546.8 229.9 545 227.2C543.1 229.8 542.8 234.7 544.8 236.6ZM547.6 232C550.3 232.6 553.7 229.6 554.3 226.5C551.2 226.5 547.5 229.1 547.6 232ZM547.4 232.3C550.2 231.5 551.9 226.8 551 223.6C548.2 225.3 546.1 229.7 547.4 232.3ZM516.4 239.6C515.4 237.1 510.9 235.7 507.9 236.7C509.7 239.3 514 241 516.4 239.6ZM513.7 235.5C515.4 233.3 514.3 228.4 512.1 226C510.7 229 511.3 234 513.7 235.5ZM510.8 231.5C509.8 228.9 505.4 227.8 502.6 228.9C504.3 231.4 508.5 233 510.8 231.5ZM508.3 227.5C510.8 226 510.9 221.5 508.9 219C506.6 221.2 506.1 225.6 508.3 227.5ZM508.4 227.7C509.2 224.9 506.3 220.9 503.1 219.9C502.9 223.2 505.5 227.4 508.4 227.7ZM523.4 239.5C525.9 240.9 529.6 238.9 530.7 235.9C527.7 235 523.8 236.6 523.4 239.5ZM526 235.8C528.6 234.6 529 230.4 527.3 227.8C524.9 229.7 523.9 233.8 526 235.8ZM528.8 232C531.1 233.8 535.3 232.3 537 229.7C534.1 228.3 529.8 229.3 528.8 232ZM531.8 227.9C533.8 226.1 533.4 221.6 531.4 219.3C529.7 221.8 529.7 226.3 531.8 227.9ZM531.6 228.2C534.5 227.5 536.4 222.9 535.7 219.7C532.7 221.2 530.4 225.5 531.6 228.2ZM515.6 248C516.9 245.7 515.2 241.6 512.7 240C511.8 242.9 513.1 247.1 515.6 248ZM512.2 244.5C511.5 241.7 507.2 239.8 504 240.4C505.4 243.3 509.6 245.7 512.2 244.5ZM510.7 240.8C512.7 238.6 511.8 233.7 509.5 231.4C507.8 234.3 508.3 239.2 510.7 240.8ZM524.2 247.7C527 246.8 528.5 242.4 527.4 239.3C524.6 240.9 522.7 245.2 524.2 247.7ZM527.5 244.2C530.1 245 533.3 242.3 533.9 239.4C530.9 239.1 527.4 241.5 527.5 244.2ZM528.7 241C531.5 240.2 533.3 235.6 532.5 232.3C529.6 234 527.4 238.4 528.7 241ZM512.7 266.9C513 264 509.5 260.4 506.3 259.8C506.7 263 509.9 266.9 512.7 266.9ZM508.4 265.6C505.7 264.1 501.5 266.2 500 269.2C503.2 270.2 507.7 268.5 508.4 265.6ZM503.2 266C502.6 263.1 498.2 261.1 495 261.8C496.4 264.8 500.6 267.2 503.2 266ZM503.8 265.9C501.8 263.7 496.9 264 494.3 266.1C497 268.1 502 268.1 503.8 265.9ZM526.6 267.1C529.3 267.5 532.4 264.3 533 261.3C529.9 261.5 526.4 264.4 526.6 267.1ZM531.8 265.9C531.8 268.8 535.6 271.6 538.8 271.7C538.1 268.5 534.6 265.4 531.8 265.9ZM535.2 266.5C536.4 269.2 541.2 270.2 544.3 269C542.2 266.3 537.6 264.8 535.2 266.5ZM519.7 246C522.7 246 525.1 242.1 524.6 238.9C521.5 239.7 518.7 243.2 519.7 246ZM519.7 246C521 243.4 518.8 239.7 515.8 238.6C515.1 241.6 516.9 245.6 519.7 246ZM519.8 240C521.2 237.3 519 233.2 515.9 231.8C515.1 235 516.9 239.3 519.8 240ZM519.8 240C522.8 239.4 524.6 235.1 523.7 231.9C520.7 233.2 518.5 237.3 519.8 240ZM519.9 233.9C522.7 233.8 525.2 230 525 226.9C521.9 227.7 519.1 231.2 519.9 233.9ZM519.9 233.9C520.7 231.3 518 227.8 515 227C514.8 230.1 517.2 233.8 519.9 233.9ZM520.1 228.2C520.8 225.7 518.1 222.3 515.2 221.5C515.1 224.5 517.5 228.1 520.1 228.2ZM520.1 228.2C522.8 227.9 525.2 223.8 525.1 220.7C522.1 221.8 519.3 225.6 520.1 228.2ZM520.1 228.8C522.4 227.1 522.5 222.1 520.7 219.4C518.5 221.9 518 226.8 520.1 228.8Z" fill="#5a7a4d"/>
<path d="M478 317C477.6 316.5 476.1 314.9 475.5 314C474.9 313.1 474.4 312.2 474.2 311.8" fill="none" stroke="#5a7a4d" stroke-width="1.6" stroke-linecap="round" stroke-linejoin="round"/>
<path d="M470 320.4C469.2 321.1 466.7 323.3 465.5 324.4C464.3 325.5 463.4 326.6 463 327M507.4 351C506.6 352.1 504 355.8 502.7 357.5C501.4 359.3 500.1 360.8 499.6 361.5M546.4 353.4C546 354.3 544.6 357 544.1 358.7C543.5 360.4 543.2 362.6 543 363.4M477.5 351.5C476.6 352 473.5 353.9 472 354.8C470.4 355.7 468.7 356.6 468 357" fill="none" stroke="#5a7a4d" stroke-width="1.8" stroke-linecap="round" stroke-linejoin="round"/>
<path d="M476 318.8C475 318.8 471.8 318.8 470 318.6C468.2 318.4 465.8 317.8 465 317.6M474 319.6C473 320 469.8 321.4 468 321.8C466.2 322.2 464.2 322.1 463.5 322.2M566 316C567 316.4 570.2 317.6 572 318.4C573.8 319.2 575.6 320 576.5 321C577.4 322 577.3 323.9 577.5 324.5M574 330C574.6 330.5 576.6 332.8 577.5 333C578.4 333.2 579.2 331.3 579.5 331M493.5 353C493.8 354.3 495.1 358.1 495.4 360.9C495.7 363.7 495.2 368.2 495.2 369.6M514.4 354C515.1 354.8 517.9 356.5 518.8 358.6C519.8 360.8 519.8 365.4 520 366.8" fill="none" stroke="#5a7a4d" stroke-width="1.9" stroke-linecap="round" stroke-linejoin="round"/>
<path d="M484 316.4C483 316.1 479.7 315.1 478 314.6C476.3 314.1 474.7 313.6 474 313.4M484 344C483.3 345 481.2 348.4 479.7 350.1C478.2 351.7 475.8 352.6 474.7 354C473.7 355.5 473.6 358 473.4 358.8M525.6 353C526.4 354.2 528.6 357.7 530.2 360.5C531.9 363.2 534.5 367.9 535.4 369.4M548 343C549 344.1 552 348.1 553.8 349.6C555.5 351.2 557.6 351.2 558.7 352.5C559.9 353.7 560.3 356.4 560.6 357.2M557 344C558 344.6 561.2 345.8 563 347.3C564.7 348.8 566.8 352.1 567.6 353" fill="none" stroke="#5a7a4d" stroke-width="2.1" stroke-linecap="round" stroke-linejoin="round"/>
<path d="M492 343C491.3 344.2 489.4 348.3 487.7 350.5C486.1 352.7 483.5 354.1 482.2 356.1C481 358 480.5 361.2 480.2 362.2M531 341C531.6 342.6 533.4 347.9 534.8 350.4C536.1 352.8 538.2 353.9 539 355.7C539.9 357.5 539.7 360.4 539.8 361.4M539 342C539.9 343.6 542.5 348.9 544.2 351.5C546 354.1 548.3 355.3 549.4 357.7C550.6 360 550.7 364.3 551 365.6" fill="none" stroke="#5a7a4d" stroke-width="2.2" stroke-linecap="round" stroke-linejoin="round"/>
<path d="M500 341.8C499 343.2 495.7 347.1 494.2 350.1C492.8 353 492.4 356.6 491.3 359.4C490.2 362.1 488.2 365.4 487.6 366.6M508 340.5C507.8 342.1 506.8 346.8 506.6 349.9C506.5 353 507.4 356.3 507.1 359.1C506.8 362 505.3 365.7 505 367M514 340C514.2 342 515.7 348.4 515.5 352C515.3 355.7 513.3 358.7 512.9 361.9C512.5 365.1 513.2 369.7 513.2 371.2M523 340C523.5 342 525.8 348.3 526.3 351.8C526.7 355.4 525.6 358.1 525.7 361.1C525.9 364.1 527 368.2 527.2 369.6" fill="none" stroke="#5a7a4d" stroke-width="2.4" stroke-linecap="round" stroke-linejoin="round"/>
<path d="M516 339C513.8 339.4 507.5 340.9 503 341.6C498.5 342.3 493.5 342.7 489 343.4C484.5 344.1 479.8 345.1 476 346C472.2 346.9 468.1 348.2 466.5 348.6M523 339C525.5 339.4 533 340.9 538 341.6C543 342.3 548.3 342.6 553 343.2C557.7 343.8 562.4 344.7 566 345.2C569.6 345.7 573.1 346.2 574.5 346.4" fill="none" stroke="#5a7a4d" stroke-width="2.7" stroke-linecap="round" stroke-linejoin="round"/>
<path d="M512 311.5C510.3 311.6 505.3 311.8 502 312.2C498.7 312.6 495.3 313.2 492 314C488.7 314.8 485.2 316.1 482 317C478.8 317.9 474.5 319.2 473 319.6M527 311.5C528.8 311.8 534.2 312.6 538 313C541.8 313.4 546 313.8 550 314.2C554 314.6 557.8 314.8 562 315.4C566.2 316 572.8 317.4 575 317.8" fill="none" stroke="#5a7a4d" stroke-width="3.8" stroke-linecap="round" stroke-linejoin="round"/>
<path d="M478.4 314.7C477.4 312.3 474.5 311.6 472.1 312.8C473.5 315.2 476.2 316.2 478.4 314.7ZM469.5 318.5C468.3 316.2 465.4 315.8 463.1 317.2C464.6 319.4 467.5 320.2 469.5 318.5ZM468 321.8C466.2 319.9 463.3 320.4 461.6 322.4C463.7 324 466.6 324 468 321.8ZM465.9 324C463.5 323.7 461.8 325.8 461.8 328.3C464.2 328.2 466.2 326.4 465.9 324ZM476.3 315.4C477.2 313.2 475.7 310.9 473.3 310.3C472.7 312.7 473.9 315.1 476.3 315.4ZM576.5 334C578.9 334.3 580.7 332.2 580.8 329.7C578.3 329.8 576.2 331.6 576.5 334ZM471.2 347.3C469 345.8 466 346.8 464.5 349.2C467 350.4 470.1 349.7 471.2 347.3ZM570.3 345.8C571.6 347.9 574.3 348.1 576.3 346.7C574.7 344.7 572.1 344.1 570.3 345.8ZM474.7 354C471.7 354.9 470.9 358.1 472.2 360.9C475.1 359.6 476.5 356.6 474.7 354ZM475 353C472 354.4 471.2 358.2 472.7 361.3C475.6 359.4 476.9 355.7 475 353ZM482.2 356.1C479.8 354 476.7 355.1 475.1 357.8C477.8 359.5 481 358.9 482.2 356.1ZM482.1 356.5C479 357.7 478 361.5 479.4 364.7C482.4 362.9 483.8 359.3 482.1 356.5ZM491.3 359.4C489.3 361.8 490.4 364.9 493.1 366.5C494.8 363.8 494.2 360.5 491.3 359.4ZM490.4 361.2C487.1 362 485.6 365.6 486.4 368.9C489.6 367.6 491.6 364.3 490.4 361.2ZM495.3 363.6C492.8 365.7 492.9 369.5 495.1 372.2C497.5 369.7 497.8 365.8 495.3 363.6ZM507.1 359.1C506.1 362.1 508.1 364.6 511.2 365.2C511.9 362.1 510.2 359.2 507.1 359.1ZM506.5 361.2C503.6 362.6 502.8 366.4 504.3 369.5C507.2 367.6 508.4 363.9 506.5 361.2ZM503.3 356.8C500 356.9 497.8 360.1 498 363.5C501.4 362.9 504 360 503.3 356.8ZM512.9 361.9C509.8 361.4 507.6 363.8 507.6 367C510.8 367.1 513.3 365 512.9 361.9ZM513 365.2C510.6 367.4 510.9 371.3 513.3 373.8C515.5 371.1 515.6 367.3 513 365.2ZM519.1 360.8C517 363.3 517.8 367.1 520.4 369.4C522.2 366.5 521.9 362.6 519.1 360.8ZM525.7 361.1C522.6 361.1 520.9 364 521.5 367.1C524.6 366.6 526.7 364 525.7 361.1ZM526.2 363.7C524.1 366.2 525 370 527.6 372.1C529.4 369.2 529 365.4 526.2 363.7ZM532.4 364.2C531.3 367.3 533.4 370.5 536.7 371.6C537.4 368.3 535.6 364.8 532.4 364.2ZM539 355.7C536.8 357.8 537.4 361.1 540 362.9C541.9 360.5 541.8 357.2 539 355.7ZM539 355.4C536.8 357.9 537.6 361.7 540.1 364C542 361.1 541.8 357.2 539 355.4ZM549.4 357.7C547.2 359.8 548 363.1 550.5 364.9C552.4 362.4 552.2 359.1 549.4 357.7ZM549.8 359.7C547.8 362.3 548.8 366 551.5 368.1C553.2 365.2 552.7 361.3 549.8 359.7ZM544.3 357.5C541.4 359.1 540.8 362.9 542.4 365.9C545.2 363.9 546.3 360.2 544.3 357.5ZM558.7 352.5C560.6 354.9 563.9 354.6 566 352.2C563.8 350 560.5 349.9 558.7 352.5ZM558.4 351.6C556.8 354.5 558.5 358 561.6 359.6C562.7 356.4 561.5 352.7 558.4 351.6ZM563.8 348.3C563.2 351.6 565.8 354.4 569.2 355C569.4 351.6 567.1 348.4 563.8 348.3ZM473.2 354C470.1 352.9 466.9 355 465.8 358.3C469.1 359 472.6 357.3 473.2 354Z" fill="#5a7a4d"/>
</svg>
<div class="t title" style="left:287px;top:40px;font-size:36.0px;transform:translate(0.50px,0.06px) scale(0.4058,0.9680)">YOUR JOURNEY STARTS WITH A SINGLE STEP</div>
<div class="t h" style="left:294px;top:192px;font-size:17.0px;transform:translate(0.10px,0.95px) scale(0.9512,0.9750)">SERVICE</div>
<div class="t h" style="left:262px;top:212px;font-size:17.0px;transform:translate(0.20px,0.45px) scale(0.9700,0.9750)">OPPORTUNITIES</div>
<div class="t h" style="left:683px;top:187px;font-size:16.4px;transform:translate(0.90px,0.43px) scale(0.8573,0.9550)">SKILL</div>
<div class="t h" style="left:646px;top:205px;font-size:16.4px;transform:translate(0.90px,0.43px) scale(0.9201,0.9550)">DEVELOPMENT</div>
<div class="t h" style="left:285px;top:371px;font-size:16.4px;transform:translate(0.60px,0.33px) scale(0.8927,0.9550)">PURPOSEFUL</div>
<div class="t h" style="left:296px;top:389px;font-size:16.4px;transform:translate(0.10px,0.63px) scale(0.9417,0.9550)">PRACTICE</div>
<div class="t h" style="left:650px;top:371px;font-size:16.4px;transform:translate(0.30px,0.33px) scale(1.0052,0.9550)">COMMUNITY</div>
<div class="t h" style="left:646px;top:389px;font-size:16.4px;transform:translate(0.70px,0.63px) scale(0.9320,0.9550)">ENGAGEMENT</div>
<div class="t l" style="left:132px;top:109px;font-size:11.4px;transform:translate(0.80px,0.30px) scaleX(0.9888)">Deliver Groceries</div>
<div class="t l" style="left:69px;top:223px;font-size:11.4px;transform:translate(0.80px,0.70px) scaleX(0.9996)">Clean Up a Park</div>
<div class="t l" style="left:796px;top:108px;font-size:11.4px;transform:translate(0.30px,0.20px) scaleX(0.9898)">Learn to Code</div>
<div class="t l" style="left:866px;top:210px;font-size:11.4px;transform:translate(0.00px,0.50px) scaleX(0.9909)">Try a new Recipe</div>
<div class="t l" style="left:72px;top:380px;font-size:11.4px;transform:translate(0.70px,0.70px) scaleX(1.0012)">Weekly Reflection</div>
<div class="t l" style="left:145px;top:485px;font-size:11.4px;transform:translate(0.20px,0.50px) scaleX(0.9731)">Go for a Hike</div>
<div class="t l" style="left:871px;top:380px;font-size:11.4px;transform:translate(0.10px,0.40px) scaleX(0.9834)">Pay it Forward</div>
<div class="t l" style="left:816px;top:488px;font-size:11.4px;transform:translate(0.30px,0.20px) scaleX(1.0000)">Inspire Someone</div>
<div class="t btn" style="left:421px;top:471px;font-size:29.4px;transform:translate(0.80px,0.80px) scaleX(0.9131)">JOIN THE</div>
<div class="t btn" style="left:421px;top:499px;font-size:29.4px;transform:translate(0.80px,0.40px) scaleX(0.9168)">JOURNEY</div>
<div class="t num" style="left:419px;top:204px;font-size:30.0px;transform:translate(0.25px,0.00px) scaleX(0.6199);clip-path:polygon(-5px -5px,40px -5px,40px 21.2px,13.3px 21.2px,13.3px 40px,4.7px 40px,4.7px 21.2px,-5px 21.2px)">1</div>
<div class="t num" style="left:600px;top:201px;font-size:30.0px;transform:translate(0.38px,0.90px) scaleX(0.6199)">2</div>
<div class="t num" style="left:426px;top:366px;font-size:30.0px;transform:translate(0.33px,0.00px) scaleX(0.6199)">3</div>
<div class="t num" style="left:600px;top:366px;font-size:30.0px;transform:translate(0.54px,0.30px) scaleX(0.6199)">4</div>
<div class="t logo" style="left:459px;top:312px;font-size:35.5px;transform:translate(0.80px,0.80px) scaleX(0.6502)">JOURNEYS</div>
<div style="position:absolute;left:425px;top:474px;width:6px;height:7px;background:#ffe600"></div>
<div style="position:absolute;left:425px;top:502px;width:6px;height:7px;background:#ffe600"></div>
</body>
</html>
